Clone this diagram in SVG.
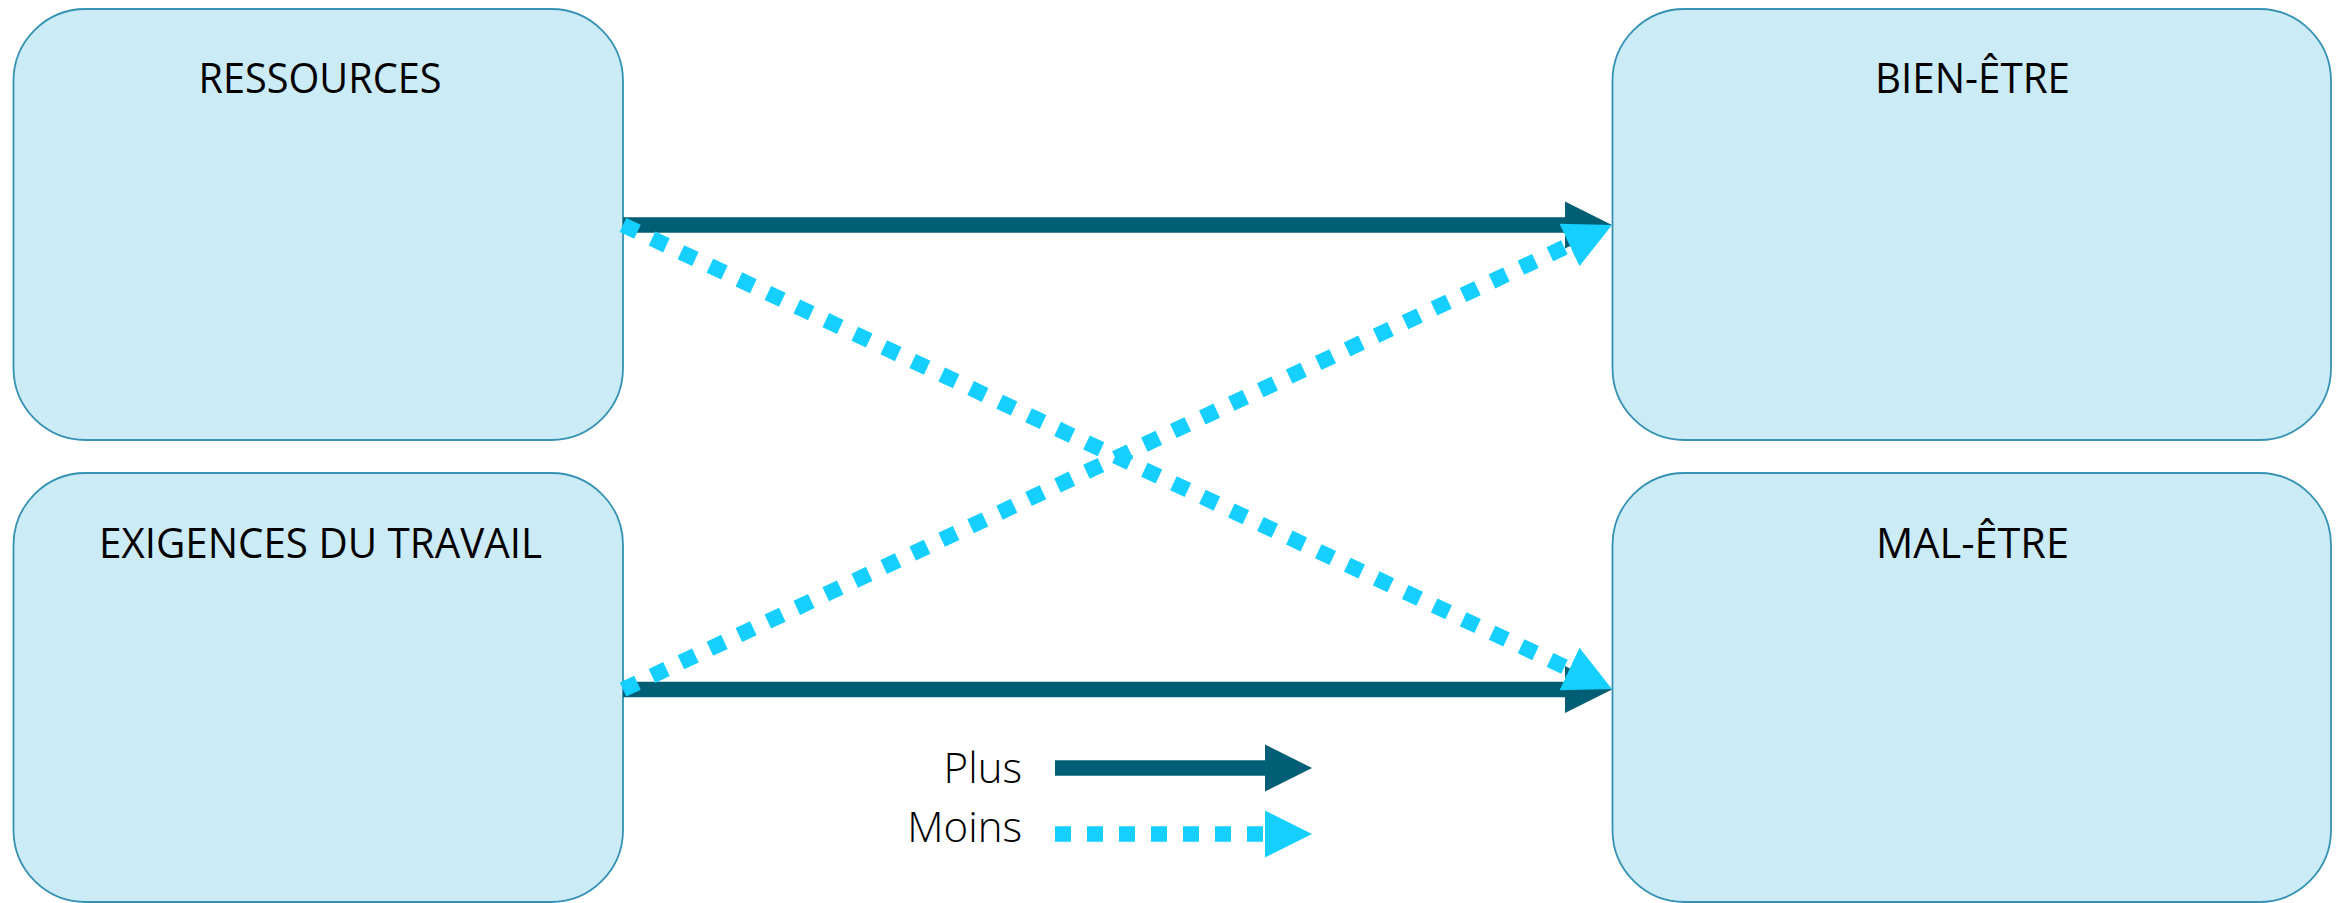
<svg xmlns="http://www.w3.org/2000/svg" width="2348" height="903" viewBox="0 0 2348 903">
  <style>
    .box { fill: #CBEBF6; stroke: #3592B4; stroke-width: 1.8; }
    .title { font-family: "Open Sans", "Noto Sans", "Liberation Sans", sans-serif; font-size: 42px; fill: #000000; text-anchor: middle; }
    .legend { font-family: "Open Sans", "Noto Sans", "Liberation Sans", sans-serif; font-size: 42px; font-weight: 300; fill: #000000; text-anchor: end; }
    .plus { stroke: #025E74; stroke-width: 15.5; fill: none; stroke-linecap: butt; }
    .moins { stroke: #14CFFF; stroke-width: 15.5; fill: none; stroke-linecap: butt; stroke-dasharray: 16 16; }
  </style>
  <defs>
    <marker id="headPlus" viewBox="0 -24 48 48" markerUnits="userSpaceOnUse" markerWidth="48" markerHeight="48" refX="0" refY="0" orient="auto">
      <path d="M0,-23.5 L47,0 L0,23.5 Z" fill="#025E74"/>
    </marker>
    <marker id="headMoins" viewBox="0 -24 48 48" markerUnits="userSpaceOnUse" markerWidth="48" markerHeight="48" refX="0" refY="0" orient="auto">
      <path d="M0,-23.5 L47,0 L0,23.5 Z" fill="#14CFFF"/>
    </marker>
  </defs>
  <rect width="2348" height="903" fill="#FFFFFF"/>

  <g id="node-ressources">
    <rect class="box" x="13.5" y="9" width="609.5" height="431" rx="72" ry="72"/>
    <text class="title" x="320" y="93" textLength="243" lengthAdjust="spacingAndGlyphs">RESSOURCES</text>
  </g>
  <g id="node-exigences">
    <rect class="box" x="13.5" y="473" width="609.5" height="429" rx="72" ry="72"/>
    <text class="title" x="320.5" y="558" textLength="443" lengthAdjust="spacingAndGlyphs">EXIGENCES DU TRAVAIL</text>
  </g>
  <g id="node-bien-etre">
    <rect class="box" x="1612.5" y="9" width="718.5" height="431" rx="72" ry="72"/>
    <text class="title" x="1972.5" y="93" textLength="195" lengthAdjust="spacingAndGlyphs">BIEN-ÊTRE</text>
  </g>
  <g id="node-mal-etre">
    <rect class="box" x="1612.5" y="473" width="718.5" height="429" rx="72" ry="72"/>
    <text class="title" x="1972.5" y="558" textLength="193" lengthAdjust="spacingAndGlyphs">MAL-ÊTRE</text>
  </g>

  <g id="connectors">
    <line class="plus" x1="623" y1="225" x2="1565" y2="225" marker-end="url(#headPlus)"/>
    <line class="plus" x1="623" y1="689.5" x2="1565" y2="689.5" marker-end="url(#headPlus)"/>
    <line class="moins" x1="623" y1="225" x2="1569.45" y2="669.03" marker-end="url(#headMoins)"/>
    <line class="moins" x1="623" y1="689.5" x2="1569.45" y2="244.97" marker-end="url(#headMoins)"/>
  </g>

  <g id="legend">
    <text class="legend" x="1022" y="783">Plus</text>
    <line class="plus" x1="1055" y1="768" x2="1265" y2="768" marker-end="url(#headPlus)"/>
    <text class="legend" x="1022" y="842">Moins</text>
    <line class="moins" x1="1055" y1="834" x2="1265" y2="834" marker-end="url(#headMoins)"/>
  </g>
</svg>
